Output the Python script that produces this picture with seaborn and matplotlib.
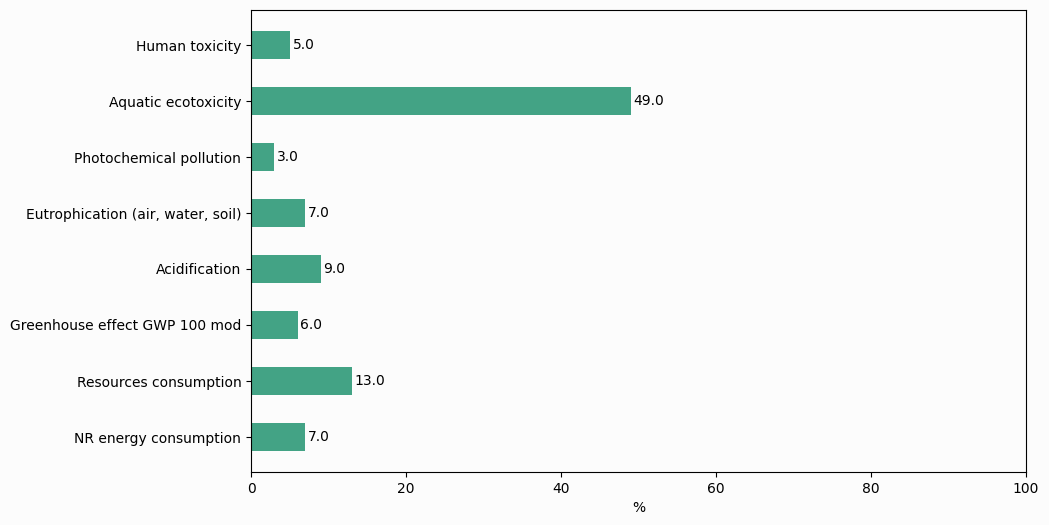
import matplotlib
matplotlib.use("Agg")
import matplotlib.pyplot as plt
import seaborn as sns
import pandas as pd

categories = ["Human toxicity", "Aquatic ecotoxicity", "Photochemical pollution",
              "Eutrophication (air, water, soil)", "Acidification",
              "Greenhouse effect GWP 100 mod", "Resources consumption",
              "NR energy consumption"]
values = [5.0, 49.0, 3.0, 7.0, 9.0, 6.0, 13.0, 7.0]

df = pd.DataFrame({"category": categories, "value": values})

fig = plt.figure(figsize=(10.49, 5.25), dpi=100, facecolor="#fcfcfc")
ax = fig.add_axes([251/1049, 1 - 472/525, (1026-251)/1049, (472-10)/525])
ax.set_facecolor("#fcfcfc")
sns.barplot(data=df, x="value", y="category", color="#43a385", saturation=1,
            width=0.5, ax=ax, orient="h")
for c in ax.containers:
    ax.bar_label(c, labels=[f"{v:.1f}" for v in values], padding=2, fontsize=10)
ax.set_xlim(0, 100)
ax.set_ylim(7.625, -0.625)
ax.set_xlabel("%")
ax.set_ylabel("")
fig.savefig("out.png", dpi=100, facecolor="#fcfcfc")
